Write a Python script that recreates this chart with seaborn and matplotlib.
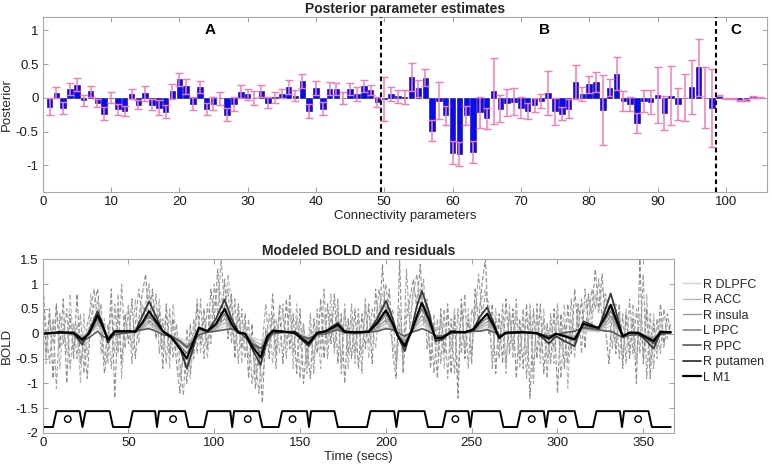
import matplotlib

matplotlib.use("Agg")
import matplotlib.pyplot as plt
import seaborn as sns
from matplotlib.ticker import FuncFormatter

# ---- top panel: posterior parameter estimates ----
param_index = list(range(1, 106))
posterior_mean = [
    -0.13, 0.075, -0.145, 0.125, 0.195, -0.035, 0.095, -0.075, -0.235, 0.0,
    -0.17, -0.195, 0.055, -0.1, 0.065, -0.1, -0.145, -0.205, 0.095, 0.275,
    0.17, -0.085, 0.155, -0.165, -0.085, -0.01, -0.25, -0.095, 0.09, 0.05,
    0.0, 0.105, -0.075, 0.01, 0.06, 0.16, 0.03, 0.25, -0.195, 0.145,
    -0.16, 0.135, 0.125, 0.0, 0.13, 0.055, 0.17, 0.115, -0.06, -0.02,
    0.06, 0.02, 0.01, 0.31, 0.14, 0.3, -0.485, -0.04, -0.26, -0.815,
    -0.835, -0.26, -0.8, -0.215, -0.305, 0.1, -0.165, -0.075, -0.06, -0.145,
    -0.2, -0.11, -0.05, 0.075, -0.2, -0.235, -0.16, 0.235, 0.055, 0.2,
    0.235, -0.185, 0.15, 0.36, -0.045, -0.09, -0.375, -0.05, -0.065, 0.04,
    -0.225, 0.03, -0.095, 0.0, 0.165, 0.45, 0.0, -0.145, 0.03, -0.01,
    -0.01, -0.04, -0.03, 0.01, 0.0,
]
posterior_err = [
    0.12, 0.08, 0.09, 0.09, 0.1, 0.08, 0.08, 0.06, 0.1, 0.08,
    0.08, 0.08, 0.07, 0.07, 0.11, 0.08, 0.11, 0.1, 0.11, 0.1,
    0.11, 0.09, 0.09, 0.09, 0.1, 0.1, 0.1, 0.1, 0.1, 0.08,
    0.1, 0.09, 0.08, 0.08, 0.07, 0.1, 0.08, 0.1, 0.1, 0.1,
    0.1, 0.1, 0.09, 0.09, 0.09, 0.1, 0.09, 0.08, 0.07, 0.33,
    0.1, 0.1, 0.1, 0.21, 0.13, 0.13, 0.16, 0.27, 0.14, 0.17,
    0.18, 0.14, 0.16, 0.23, 0.16, 0.49, 0.2, 0.2, 0.2, 0.16,
    0.12, 0.1, 0.1, 0.33, 0.2, 0.1, 0.14, 0.25, 0.1, 0.13,
    0.15, 0.52, 0.13, 0.25, 0.15, 0.1, 0.15, 0.16, 0.18, 0.42,
    0.25, 0.44, 0.24, 0.35, 0.4, 0.43, 0.45, 0.58, 0.01, 0.01,
    0.01, 0.01, 0.01, 0.01, 0.01,
]
section_bounds = [49.5, 98.5]
section_labels = ["A", "B", "C"]
section_label_x = [24.5, 73.5, 101.5]

# ---- bottom panel: modeled BOLD (sampled at knot times) ----
t_model = [
    0, 10, 18, 23, 27, 32, 35, 38, 42, 50,
    54, 58, 62, 66, 70, 75, 80, 84, 88, 91,
    96, 101, 106, 110, 114, 118, 122, 127, 131, 134,
    140, 147, 151, 155, 160, 165, 169, 172, 176, 182,
    190, 195, 200, 204, 207, 211, 215, 218, 221, 225,
    229, 233, 238, 246, 251, 255, 259, 263, 266, 270,
    280, 288, 292, 295, 299, 304, 310, 315, 320, 324,
    328, 331, 334, 338, 342, 347, 352, 356, 360, 366,
]
bold_r_dlpfc = [
    0, 0.01, 0.0, -0.04, 0.0, 0.11, 0.05, -0.04, 0.02, 0.02,
    0.01, 0.07, 0.14, 0.08, 0.02, -0.02, -0.09, -0.15, -0.05, 0.04,
    0.02, 0.06, 0.15, 0.06, 0.01, 0.0, -0.08, -0.14, -0.02, 0.02,
    0.01, 0.01, -0.03, -0.06, 0.01, 0.02, 0.04, 0.05, 0.01, 0.01,
    0.01, 0.07, 0.14, 0.06, -0.02, -0.08, 0.02, 0.1, 0.19, 0.09,
    -0.03, -0.02, 0.01, 0.01, 0.02, 0.08, 0.12, 0.05, -0.02, 0.01,
    0.01, 0.0, -0.02, -0.03, 0.0, -0.02, -0.04, 0.06, 0.05, 0.04,
    0.1, 0.17, 0.09, -0.02, 0.01, 0.01, -0.02, -0.05, 0.01, 0.01,
]
bold_r_acc = [
    0, 0.01, 0.01, -0.05, 0.0, 0.17, 0.07, -0.05, 0.02, 0.02,
    0.02, 0.1, 0.2, 0.11, 0.02, -0.04, -0.13, -0.22, -0.07, 0.05,
    0.02, 0.09, 0.22, 0.09, 0.01, 0.0, -0.11, -0.22, -0.02, 0.02,
    0.02, 0.01, -0.04, -0.09, 0.01, 0.02, 0.05, 0.08, 0.02, 0.01,
    0.02, 0.1, 0.21, 0.09, -0.02, -0.11, 0.02, 0.16, 0.28, 0.13,
    -0.04, -0.04, 0.02, 0.01, 0.04, 0.11, 0.18, 0.07, -0.04, 0.01,
    0.01, 0.0, -0.02, -0.04, 0.0, -0.02, -0.05, 0.09, 0.07, 0.05,
    0.16, 0.26, 0.13, -0.02, 0.01, 0.01, -0.04, -0.07, 0.01, 0.01,
]
bold_r_insula = [
    0, 0.02, 0.01, -0.07, 0.0, 0.22, 0.09, -0.07, 0.03, 0.03,
    0.02, 0.13, 0.27, 0.15, 0.03, -0.05, -0.18, -0.3, -0.09, 0.07,
    0.03, 0.12, 0.3, 0.12, 0.01, 0.0, -0.15, -0.29, -0.03, 0.03,
    0.02, 0.01, -0.06, -0.12, 0.01, 0.03, 0.07, 0.11, 0.02, 0.02,
    0.02, 0.13, 0.28, 0.12, -0.03, -0.15, 0.03, 0.21, 0.37, 0.18,
    -0.06, -0.05, 0.02, 0.02, 0.05, 0.15, 0.24, 0.09, -0.05, 0.01,
    0.02, 0.01, -0.03, -0.06, 0.0, -0.03, -0.07, 0.12, 0.09, 0.07,
    0.21, 0.35, 0.18, -0.03, 0.01, 0.01, -0.05, -0.09, 0.02, 0.02,
]
bold_l_ppc = [
    0, 0.02, 0.01, -0.1, 0.0, 0.3, 0.12, -0.1, 0.04, 0.04,
    0.04, 0.18, 0.36, 0.2, 0.04, -0.06, -0.24, -0.4, -0.12, 0.1,
    0.04, 0.16, 0.4, 0.16, 0.02, 0.0, -0.2, -0.38, -0.04, 0.04,
    0.03, 0.02, -0.08, -0.16, 0.02, 0.04, 0.1, 0.14, 0.03, 0.02,
    0.03, 0.18, 0.38, 0.16, -0.04, -0.2, 0.04, 0.28, 0.5, 0.24,
    -0.08, -0.06, 0.03, 0.02, 0.06, 0.2, 0.32, 0.12, -0.06, 0.02,
    0.02, 0.01, -0.04, -0.08, 0.0, -0.04, -0.1, 0.16, 0.12, 0.1,
    0.28, 0.46, 0.24, -0.04, 0.02, 0.02, -0.06, -0.12, 0.02, 0.02,
]
bold_r_ppc = [
    0, 0.02, 0.0, -0.15, -0.08, 0.05, -0.05, -0.1, -0.02, 0.02,
    0.05, 0.08, 0.1, 0.05, -0.02, -0.05, -0.15, -0.27, -0.15, -0.02,
    0.03, 0.05, 0.08, 0.1, 0.05, -0.08, -0.2, -0.3, -0.15, 0.0,
    0.03, 0.05, -0.05, -0.1, -0.02, 0.0, 0.05, 0.08, 0.02, 0.0,
    0.03, 0.05, 0.1, 0.08, 0.02, -0.05, 0.03, 0.06, 0.1, 0.05,
    -0.05, -0.05, 0.0, 0.03, 0.05, 0.05, 0.08, 0.03, -0.03, 0.0,
    0.03, 0.02, -0.03, -0.05, -0.02, 0.02, 0.05, 0.12, 0.1, 0.08,
    0.05, 0.05, 0.0, -0.08, -0.03, -0.02, -0.1, -0.2, -0.02, 0.02,
]
bold_r_putamen = [
    0, 0.02, 0.0, -0.22, 0.05, 0.45, 0.2, -0.18, 0.03, 0.05,
    0.05, 0.35, 0.65, 0.35, 0.05, -0.05, -0.3, -0.7, -0.25, 0.12,
    0.05, 0.3, 0.69, 0.3, 0.05, -0.02, -0.3, -0.63, -0.1, 0.07,
    0.05, 0.0, -0.12, -0.25, 0.0, 0.05, 0.15, 0.22, 0.05, 0.02,
    0.05, 0.3, 0.66, 0.3, -0.05, -0.35, 0.1, 0.55, 0.86, 0.45,
    -0.15, -0.12, 0.05, 0.02, 0.1, 0.35, 0.53, 0.2, -0.1, 0.02,
    0.03, 0.0, -0.1, -0.2, -0.05, -0.15, -0.25, 0.25, 0.18, 0.1,
    0.5, 0.81, 0.45, -0.05, 0.02, 0.0, -0.15, -0.3, 0.05, 0.03,
]
bold_l_m1 = [
    0, 0.03, 0.02, -0.12, 0.0, 0.37, 0.15, -0.12, 0.05, 0.05,
    0.04, 0.22, 0.45, 0.25, 0.05, -0.08, -0.3, -0.5, -0.15, 0.12,
    0.05, 0.2, 0.5, 0.2, 0.02, 0.0, -0.25, -0.48, -0.05, 0.05,
    0.04, 0.02, -0.1, -0.2, 0.02, 0.05, 0.12, 0.18, 0.04, 0.03,
    0.04, 0.22, 0.47, 0.2, -0.05, -0.25, 0.05, 0.35, 0.62, 0.3,
    -0.1, -0.08, 0.04, 0.03, 0.08, 0.25, 0.4, 0.15, -0.08, 0.02,
    0.03, 0.01, -0.05, -0.1, 0.0, -0.05, -0.12, 0.2, 0.15, 0.12,
    0.35, 0.58, 0.3, -0.05, 0.02, 0.02, -0.08, -0.15, 0.03, 0.03,
]
region_names = ["R DLPFC", "R ACC", "R insula", "L PPC", "R PPC", "R putamen", "L M1"]

# ---- observed (modeled + residual) traces, every 2 s ----
t_obs = list(range(0, 367, 2))
obs_a = [
    1.3, -0.4, 0.5, -0.9, 0.6, -0.3, 0.7, -1.0, 0.4, -0.5,
    0.8, -0.6, -0.2, -0.9, 0.3, 0.6, 0.9, 0.1, -0.8, -0.3,
    0.9, -1.3, 0.5, -0.6, 0.4, -0.2, 0.7, -0.5, 0.3, 0.8,
    1.2, 0.2, 0.9, -0.1, 0.5, -0.7, 0.6, -0.4, 0.3, -0.6,
    -1.2, -0.3, -1.0, 0.2, -0.5, 0.6, -0.2, 0.5, -0.3, 0.9,
    0.3, 1.3, 0.2, 1.1, -0.1, 0.8, -0.5, 0.6, -0.3, 0.4,
    -0.9, 0.2, -1.1, -0.3, -1.4, 0.1, -0.5, 0.8, -0.4, 0.5,
    -0.6, 0.7, -0.3, 0.4, -0.8, 0.5, -1.0, -0.2, -0.9, 0.3,
    -0.4, 0.7, -0.5, 0.6, -0.2, 0.8, -0.6, 0.4, -1.0, 0.3,
    -0.5, 0.5, -0.7, 0.4, -0.3, 0.6, -0.6, 0.9, 0.1, 1.4,
    0.2, 0.9, -0.4, -0.9, 1.5, -0.8, 0.3, 0.7, 1.1, 0.5,
    1.4, 0.2, 0.6, -0.7, 0.2, -0.9, 0.5, -0.4, 0.6, -0.8,
    0.4, -1.3, 0.7, -0.5, 0.3, -0.6, 0.9, 0.2, 1.0, 1.5,
    0.0, 0.6, -0.8, 0.4, -0.6, 0.7, -0.4, 0.5, -0.9, 0.3,
    -0.7, 0.6, -1.3, 0.5, -0.5, 0.6, -0.8, 0.2, -0.6, 0.5,
    -1.2, 0.4, -0.7, 0.6, -0.4, 0.9, 0.1, 0.7, -0.3, 0.8,
    0.4, 1.3, 0.5, 1.2, 0.1, -0.6, 0.5, -0.4, 0.6, -0.7,
    0.4, -0.5, 0.3, -1.0, 1.5, -0.6, 0.5, -0.9, 0.2, -0.3,
    0.6, -0.2, 0.4, 0.0,
]
obs_b = [
    0.9, 0.1, -0.6, 0.3, -1.1, 0.4, -0.2, 0.5, -0.7, 0.2,
    -0.5, 0.4, -0.8, 0.2, 0.5, 0.9, 0.2, 0.6, -0.6, 0.2,
    -0.7, 0.6, -0.4, 1.0, -0.3, 0.5, -0.6, 0.2, 0.9, 0.3,
    0.6, 1.0, 0.1, 0.8, -0.4, 0.3, -0.6, 0.5, -0.5, 0.2,
    -0.6, -1.25, 0.1, -0.8, 0.3, -0.4, 0.7, -0.5, 0.6, -0.2,
    1.0, 0.4, 1.5, 0.5, 0.9, -0.2, 0.7, -0.6, 0.5, -0.5,
    0.3, -1.0, -0.5, -1.2, -0.2, 0.6, -0.3, 0.4, -0.7, 0.6,
    0.4, -0.5, 0.8, -0.4, 0.3, -0.9, 0.2, -0.6, 0.4, -0.8,
    0.5, -0.3, 0.9, -0.5, 0.4, -0.3, 0.7, -0.8, 0.5, -0.4,
    0.6, -0.4, 0.5, -0.8, 0.7, -0.2, 0.5, 0.2, 0.9, 0.4,
    1.0, 0.3, 0.5, -0.7, 0.2, -0.6, 1.3, 0.1, 0.8, 1.2,
    0.6, 1.1, -0.3, 0.4, -0.8, 0.3, -0.6, 0.5, -0.9, 0.3,
    -0.8, 0.5, -0.4, 0.8, -0.7, 0.5, 0.3, 1.2, 0.4, 0.8,
    0.6, -0.7, 0.3, -0.5, 0.6, -0.6, 0.4, -0.3, 0.7, -0.5,
    0.5, -0.9, 0.4, -1.0, 0.6, -0.4, 0.3, -0.9, 0.4, -0.3,
    0.6, -0.9, 0.2, -0.6, 0.7, -0.2, 0.6, -0.4, 0.9, 0.2,
    0.9, 0.5, 1.1, 0.3, 0.8, 0.5, -0.3, 0.6, -0.5, 0.4,
    -0.6, 0.7, -0.4, 0.5, -0.4, 1.2, -0.9, 0.4, -0.7, 0.3,
    -0.4, 0.5, -0.1, 0.2,
]
obs_c = [
    0.4, -0.6, 0.3, -0.2, 0.6, -0.7, 0.2, -0.4, 0.8, -0.3,
    0.2, -1.0, 0.4, -0.5, 0.8, 0.2, 0.7, -0.4, 0.3, -0.6,
    0.5, -0.4, 0.8, -0.9, 0.2, 0.6, -0.3, 0.7, -0.2, 0.6,
    0.3, 0.8, 0.5, 0.2, 0.7, -0.3, 0.4, -0.7, 0.6, -0.2,
    -0.9, -0.4, -0.6, -0.9, -0.1, 0.7, -0.4, 0.3, -0.5, 0.4,
    0.6, 0.9, 0.8, 0.3, 1.2, 0.6, -0.3, 0.4, -0.6, 0.2,
    -0.5, -0.2, -0.8, -0.6, -0.9, -0.3, 0.4, -0.6, 0.3, -0.4,
    0.6, -0.2, 0.5, -0.7, 0.6, -0.3, 0.2, -0.8, 0.1, -0.5,
    0.2, -0.7, 0.4, -0.2, 0.8, -0.4, 0.5, -0.6, 0.6, -0.7,
    0.3, -0.6, 0.3, -0.4, 0.6, -0.5, 0.2, -0.3, 0.5, 0.8,
    0.6, 0.1, -0.2, -0.5, 0.5, -0.3, 0.6, 0.3, 0.9, 0.7,
    0.9, 0.4, 0.7, -0.5, 0.4, -0.4, 0.3, -0.7, 0.4, -0.3,
    0.5, -0.9, 0.6, -0.3, 0.5, -0.4, 0.6, 0.5, 0.7, 0.9,
    0.3, -0.5, 0.5, -0.3, 0.3, -0.8, 0.6, -0.5, 0.4, -0.7,
    0.3, -0.4, 0.6, -0.7, 0.4, -0.6, 0.5, -0.5, 0.2, -0.6,
    0.4, -0.3, 0.6, -1.1, 0.3, -0.5, 0.6, 0.3, 0.5, 0.7,
    0.2, 0.8, 0.4, 0.9, 0.7, 0.3, 0.6, -0.2, 0.4, -0.5,
    0.5, -0.3, 0.6, -0.6, 0.4, -0.5, 0.8, -0.6, 0.4, -0.5,
    0.3, -0.3, 0.2, 0.0,
]

# ---- stimulus timecourse (block design) ----
stim_t = [
    0, 6, 8, 21.5, 23.2, 25, 39, 41, 50.5, 52.5,
    65.5, 66.6, 67.8, 83, 85, 94, 96, 109.3, 110.4, 111.5,
    126, 128, 137.5, 139.5, 154, 155.2, 156.4, 170, 172, 189,
    191, 204.8, 206.1, 207.4, 222.5, 224.5, 233, 235, 248, 249.2,
    250.4, 266.5, 268.5, 276.5, 278.5, 292, 293.3, 294.6, 310, 312,
    320.7, 322.7, 336.4, 337.6, 338.8, 353, 355, 366,
]
stim_level = [
    -1.88, -1.88, -1.56, -1.56, -1.88, -1.56, -1.56, -1.88, -1.88, -1.56,
    -1.56, -1.88, -1.56, -1.56, -1.88, -1.88, -1.56, -1.56, -1.88, -1.56,
    -1.56, -1.88, -1.88, -1.56, -1.56, -1.88, -1.56, -1.56, -1.88, -1.88,
    -1.56, -1.56, -1.88, -1.56, -1.56, -1.88, -1.88, -1.56, -1.56, -1.88,
    -1.56, -1.56, -1.88, -1.88, -1.56, -1.56, -1.88, -1.56, -1.56, -1.88,
    -1.88, -1.56, -1.56, -1.88, -1.56, -1.56, -1.88, -1.88,
]
event_t = [14.6, 76, 119.5, 145.6, 240.5, 285, 303, 347]
event_level = [-1.72, -1.72, -1.72, -1.72, -1.72, -1.72, -1.72, -1.72]

# ---- style ----
sns.set_theme(style="ticks")
plt.rcParams["font.family"] = ["Liberation Sans", "DejaVu Sans"]
plt.rcParams["axes.unicode_minus"] = False
plt.rcParams["lines.solid_joinstyle"] = "round"
FS = 9.5
SPINE = "#a8a8a8"


def matlab_axes(ax):
    for s in ax.spines.values():
        s.set_color(SPINE)
        s.set_linewidth(0.8)
    ax.tick_params(direction="in", top=True, right=True, length=3.5, width=0.6,
                   color="#909090", labelsize=FS, labelcolor="#1a1a1a", pad=3)
    ax.yaxis.set_major_formatter(FuncFormatter(lambda v, _: f"{v:g}"))


fig = plt.figure(figsize=(7.72, 4.71), dpi=100)
ax1 = fig.add_axes([0.0553, 0.592, 0.938, 0.372])
ax2 = fig.add_axes([0.0553, 0.0807, 0.818, 0.369])

# top panel
sns.barplot(x=param_index, y=posterior_mean, native_scale=True, color="#0a0af5",
            saturation=1, width=0.8, errorbar=None, edgecolor="#00008a",
            linewidth=0.4, ax=ax1)
ax1.errorbar(param_index, posterior_mean, yerr=posterior_err, fmt="none",
             ecolor="#f27cb9", elinewidth=1.1, capsize=2.6, capthick=1.0, zorder=3)
for xb in section_bounds:
    ax1.axvline(xb, color="black", lw=1.5, ls=(0, (2.2, 1.6)), zorder=4)
for lab, xl in zip(section_labels, section_label_x):
    ax1.text(xl, 1.0, lab, ha="center", va="center", fontsize=11,
             fontweight="bold", color="black")
ax1.set_xlim(0, 106)
ax1.set_ylim(-1.4, 1.2)
ax1.set_xticks(range(0, 101, 10))
ax1.set_yticks([-1, -0.5, 0, 0.5, 1])
matlab_axes(ax1)
ax1.set_xlabel("Connectivity parameters", fontsize=FS, labelpad=1)
ax1.set_ylabel("Posterior", fontsize=FS, labelpad=2)
ax1.set_title("Posterior parameter estimates", fontsize=10, fontweight="bold", pad=3)

# bottom panel
for obs, col in zip([obs_c, obs_a, obs_b], ["#b4b4b4", "#8c8c8c", "#a0a0a0"]):
    sns.lineplot(x=t_obs, y=obs, color=col, lw=0.8, linestyle=(0, (4, 2)), ax=ax2)

region_series = [bold_r_dlpfc, bold_r_acc, bold_r_insula, bold_l_ppc,
                 bold_r_ppc, bold_r_putamen, bold_l_m1]
region_colors = ["#d2d2d2", "#b6b6b6", "#9a9a9a", "#7e7e7e", "#5a5a5a", "#383838", "#000000"]
region_widths = [1.0, 1.0, 1.0, 1.1, 1.2, 1.3, 1.6]
handles = []
for series, col, w in zip(region_series, region_colors, region_widths):
    sns.lineplot(x=t_model, y=series, color=col, lw=w, ax=ax2)
    handles.append(ax2.lines[-1])

sns.lineplot(x=stim_t, y=stim_level, color="black", lw=1.4, ax=ax2)
sns.scatterplot(x=event_t, y=event_level, marker="o", s=22, facecolor="none",
                edgecolor="black", linewidth=1.0, ax=ax2)

ax2.set_xlim(0, 368)
ax2.set_ylim(-2, 1.5)
ax2.set_xticks(range(0, 351, 50))
ax2.set_yticks([-2, -1.5, -1, -0.5, 0, 0.5, 1, 1.5])
matlab_axes(ax2)
ax2.set_xlabel("Time (secs)", fontsize=FS, labelpad=1)
ax2.set_ylabel("BOLD", fontsize=FS, labelpad=2)
ax2.set_title("Modeled BOLD and residuals", fontsize=10, fontweight="bold", pad=3)
ax2.legend(handles, region_names, loc="center left", bbox_to_anchor=(1.014, 0.586),
           frameon=False, fontsize=9, handlelength=1.4, handletextpad=0.2,
           labelspacing=0.28, borderpad=0, borderaxespad=0)

fig.savefig("out.png", dpi=100)
